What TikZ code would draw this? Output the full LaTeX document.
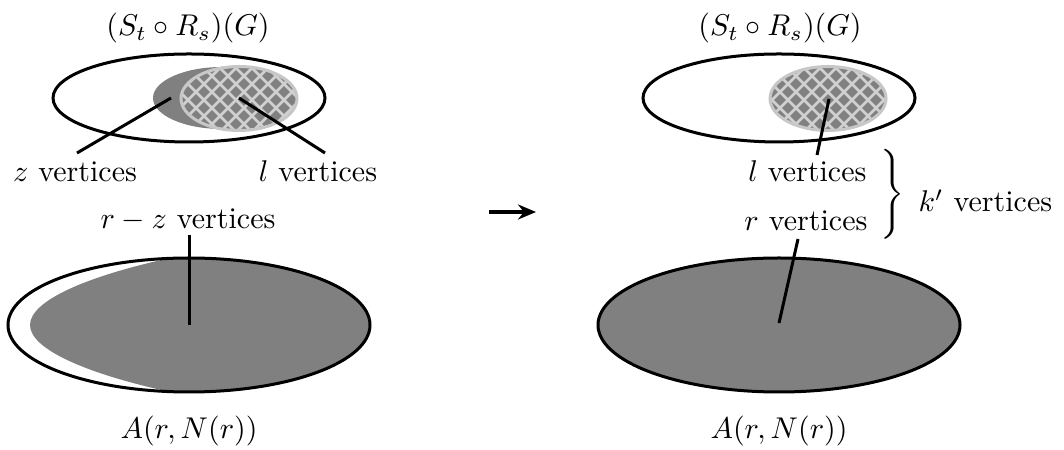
\documentclass[tikz,border=0pt]{standalone}
\usetikzlibrary{arrows.meta}
\definecolor{hatchgray}{gray}{0.82}
\definecolor{rimgray}{gray}{0.78}
\definecolor{fillgray}{gray}{0.5}
\tikzset{
  outline/.style={draw=black, line width=1pt},
  lbl/.style={inner sep=0pt, anchor=base},
  pointer/.style={draw=black, line width=1pt},
  hatchline/.style={draw=hatchgray, line width=0.85pt},
  rim/.style={draw=rimgray, line width=1pt},
}
\begin{document}
\begin{tikzpicture}[x=0.3333pt, y=-0.3333pt]
\useasboundingbox (0,0) rectangle (1064,450);

% ---------- LEFT ----------
\node[lbl] (tL) at (188,36) {$(S_t\circ R_s)(G)$};
\draw[outline] (189,98) ellipse [x radius=136, y radius=44];
\fill[fillgray] (222,98) ellipse [x radius=69, y radius=31];
\fill[fillgray] (239,98.5) ellipse [x radius=58, y radius=32];
\begin{scope}
  \clip (239,98.5) ellipse [x radius=58, y radius=32];
  \foreach \c in {-200,-184,...,400} {
    \draw[hatchline] (\c,0) -- ++(200,200);
    \draw[hatchline] (\c+200,0) -- ++(-200,200);
  }
\end{scope}
\draw[rim] (239,98.5) ellipse [x radius=58, y radius=32];

\node[lbl] (zL) at (75,182) {$z$ vertices};
\node[lbl] (lL) at (318,182) {$l$ vertices};
\coordinate (zs) at (77,153);
\coordinate (zt) at (171,98);
\coordinate (ls) at (325,153);
\coordinate (lt) at (239,98);
\draw[pointer] (zs) -- (zt);
\draw[pointer] (ls) -- (lt);

\node[lbl] (rzL) at (188,229) {$r-z$ vertices};
\begin{scope}
  \clip (189,325) ellipse [x radius=181, y radius=67];
  \fill[fillgray] (175,257) .. controls (90,275) and (30,300) .. (30,325)
     .. controls (30,350) and (90,375) .. (175,393) -- (380,400) -- (380,250) -- cycle;
\end{scope}
\draw[outline] (189,325) ellipse [x radius=181, y radius=67];
\coordinate (rzs) at (189,235);
\coordinate (rzt) at (189,325);
\draw[pointer] (rzs) -- (rzt);
\node[lbl] (AL) at (189,439) {$A(r,N(r))$};

% ---------- ARROW ----------
\coordinate (a1) at (489,212);
\coordinate (a2) at (536,212);
\draw[line width=1.4pt, -{Stealth[length=6pt,width=5pt]}] (a1) -- (a2);

% ---------- RIGHT ----------
\node[lbl] (tR) at (780,36) {$(S_t\circ R_s)(G)$};
\draw[outline] (779,98) ellipse [x radius=136, y radius=44];
\fill[fillgray] (828,98.5) ellipse [x radius=58, y radius=32];
\begin{scope}
  \clip (828,98.5) ellipse [x radius=58, y radius=32];
  \foreach \c in {400,416,...,1000} {
    \draw[hatchline] (\c,0) -- ++(200,200);
    \draw[hatchline] (\c+200,0) -- ++(-200,200);
  }
\end{scope}
\draw[rim] (828,98.5) ellipse [x radius=58, y radius=32];

\node[lbl, anchor=base east] (lR) at (867,182) {$l$ vertices};
\node[lbl, anchor=base east] (rR) at (868,231) {$r$ vertices};
\coordinate (lrs) at (817,155);
\coordinate (lrt) at (829,99);
\draw[pointer] (lrs) -- (lrt);

\node[inner sep=0pt] (br) at (891,197) {$\left.\vrule height 14pt depth 14pt width 0pt\right\}$};
\node[lbl, anchor=base west] (kR) at (918,212) {$k'$ vertices};

\draw[outline, fill=fillgray] (779,325) ellipse [x radius=181, y radius=67];
\coordinate (rrs) at (798,239);
\coordinate (rrt) at (779,323);
\draw[pointer] (rrs) -- (rrt);
\node[lbl] (AR) at (779,439) {$A(r,N(r))$};
\end{tikzpicture}
\end{document}
